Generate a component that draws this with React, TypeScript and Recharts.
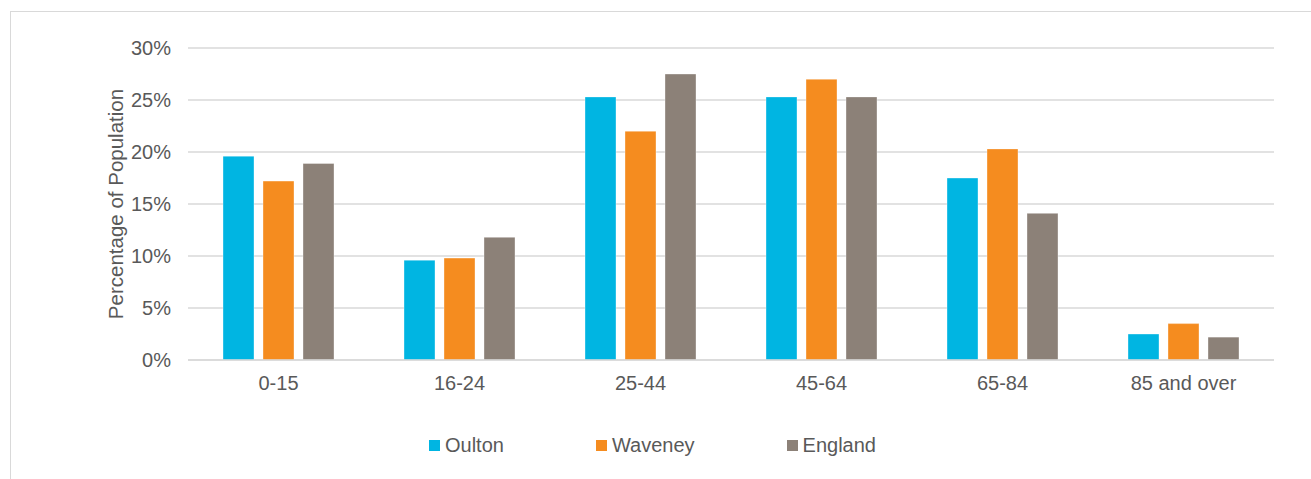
import React from "react"
import {
  BarChart,
  Bar,
  XAxis,
  YAxis,
  CartesianGrid,
} from "recharts"

const ageGroups = ["0-15", "16-24", "25-44", "45-64", "65-84", "85 and over"]
const oulton = [19.6, 9.6, 25.3, 25.3, 17.5, 2.5]
const waveney = [17.2, 9.8, 22.0, 27.0, 20.3, 3.5]
const england = [18.9, 11.8, 27.5, 25.3, 14.1, 2.2]
const yTicks = [0, 5, 10, 15, 20, 25, 30]

const series = [
  { key: "Oulton", color: "#00b5e2", values: oulton },
  { key: "Waveney", color: "#f58c1f", values: waveney },
  { key: "England", color: "#8c8178", values: england },
]

const data = ageGroups.map((group, i) => ({
  group,
  Oulton: oulton[i],
  Waveney: waveney[i],
  England: england[i],
}))

const FONT = "'Liberation Sans', Arial, sans-serif"
const TEXT = "#595959"

// legend drawn as a plain div so it doesn't eat into the plot area
const ChartLegend = () => (
  <div
    style={{
      position: "absolute",
      left: 429,
      top: 434,
      display: "flex",
      alignItems: "center",
      fontFamily: FONT,
      fontSize: 20,
      color: TEXT,
      lineHeight: "22px",
    }}
  >
    {series.map((s, i) => (
      <div key={s.key} style={{ display: "flex", alignItems: "center", marginRight: i < series.length - 1 ? 92 : 0 }}>
        <span style={{ width: 11, height: 11, background: s.color, display: "inline-block", marginRight: 5 }} />
        <span>{s.key}</span>
      </div>
    ))}
  </div>
)

export default function App() {
  return (
    <div style={{ position: "absolute", left: 0, top: 0, width: 1311, height: 479, background: "#fff" }}>
      <div
        style={{
          position: "absolute",
          left: 10,
          top: 11,
          width: 1320,
          height: 480,
          border: "1px solid #d9d9d9",
          boxSizing: "border-box",
        }}
      />
      <div style={{ position: "absolute", left: 0, top: 0 }}>
        <BarChart
          width={1311}
          height={479}
          data={data}
          margin={{ top: 48, right: 37, left: 108, bottom: 89 }}
          barCategoryGap={35}
          barGap={9}
        >
          <CartesianGrid vertical={false} stroke="#d9d9d9" strokeWidth={1.5} />
          <XAxis
            dataKey="group"
            axisLine={{ stroke: "#d9d9d9", strokeWidth: 1.5 }}
            tickLine={false}
            tickSize={6}
            tickMargin={10}
            height={30}
            interval={0}
            tick={{ fill: TEXT, fontSize: 20, fontFamily: FONT }}
          />
          <YAxis
            width={80}
            domain={[0, 30]}
            ticks={yTicks}
            axisLine={false}
            tickLine={false}
            tickSize={6}
            tickMargin={11}
            tickFormatter={(v) => `${v}%`}
            tick={{ fill: TEXT, fontSize: 20, fontFamily: FONT }}
            label={{
              value: "Percentage of Population",
              angle: -90,
              position: "center",
              dx: -32,
              style: { fill: TEXT, fontSize: 20.5, fontFamily: FONT },
            }}
          />
          {series.map((s) => (
            <Bar
              key={s.key}
              dataKey={s.key}
              fill={s.color}
              stroke="#ffffff"
              strokeOpacity={0.35}
              strokeWidth={1}
              isAnimationActive={false}
            />
          ))}
        </BarChart>
      </div>
      <ChartLegend />
    </div>
  )
}
